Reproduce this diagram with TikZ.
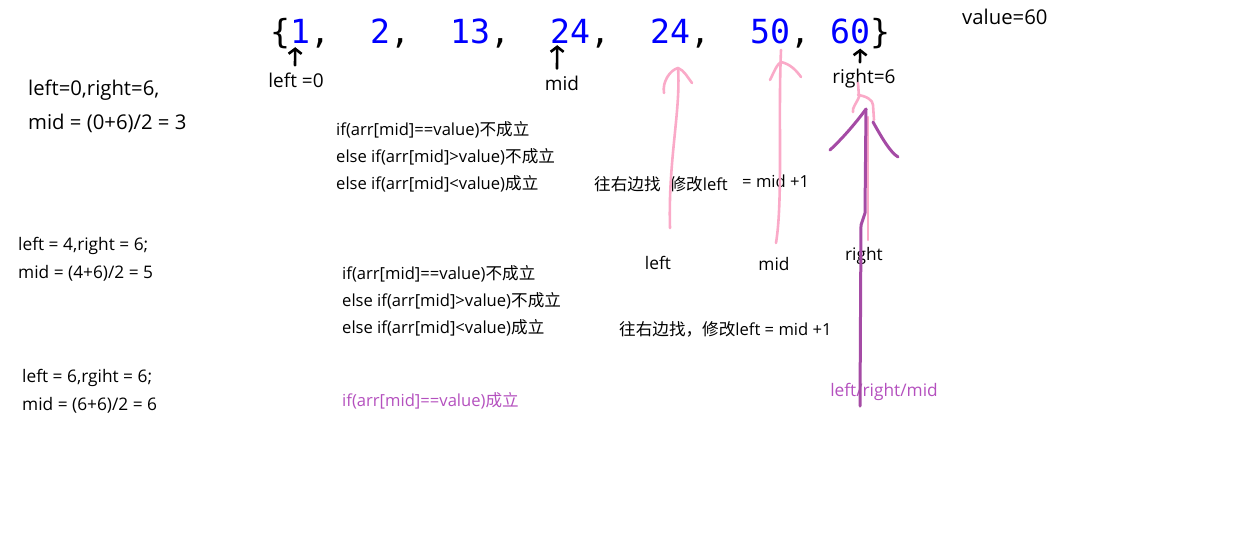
\documentclass[tikz,border=0pt]{standalone}
\usepackage{fontspec}
\setmainfont{Open Sans}
\setmonofont{DejaVu Sans Mono}
\newfontfamily\cjk{Noto Sans CJK SC}
\usetikzlibrary{positioning,arrows.meta}
\definecolor{colornum}   {RGB}{0  ,0  ,255}
\definecolor{colortext}  {RGB}{0  ,0  ,0  }
\definecolor{colorpink}  {RGB}{250,170,200}
\definecolor{colorpurple}{RGB}{165,75 ,165}
\definecolor{colorfound} {RGB}{180,80 ,190}

\begin{document}
\begin{tikzpicture}[
    x=1pt, y=-1pt,
    num/.style={text=colornum,font={\ttfamily\fontsize{33.2}{36}\selectfont},inner sep=0pt,anchor=base west},
    sep/.style={text=colortext,font={\ttfamily\fontsize{33.2}{36}\selectfont},inner sep=0pt,anchor=base west},
    txt/.style={text=colortext,font={\fontsize{17.3}{20}\selectfont},inner sep=1pt,anchor=west},
    code/.style={txt,font={\fontsize{16.6}{20}\selectfont}},
    bigtxt/.style={txt,font={\fontsize{20.3}{22}\selectfont}},
    lbl/.style={text=colortext,font={\fontsize{19}{20}\selectfont},inner sep=1pt},
    found/.style={code,text=colorfound},
    blkarrow/.style={-{Straight Barb[length=5pt,width=13pt]},line width=2.6pt,line cap=round},
    pinkline/.style={colorpink,line width=2.6pt,line cap=round,line join=round},
    purpleline/.style={colorpurple,line width=3pt,line cap=round,line join=round},
]
    \useasboundingbox (0,0) rectangle (1259,544);

    % Array
    \node[sep] (bl) at (270,43) {\{};
    \foreach \v/\i [count=\k] in {1/1,2/5,13/9,24/14,24/19,50/24,60/28}
        \node[num] (n\k) at ({270+20*\i},43) {\v};
    \foreach \i [count=\k] in {2,6,11,16,21,26}
        \node[sep] (c\k) at ({270+20*\i},43) {,};
    \node[sep] (br) at (870,43) {\}};

    \node[bigtxt] (value) at (961,17) {value=60};

    % Pointers
    \node[lbl] (leftlbl)  at (296,80) {left =0};
    \node[lbl] (midlbl)   at (562,83) {mid};
    \node[lbl] (rightlbl) at (864,79) {right=6};
    \draw[blkarrow] ([xshift=-1pt,yshift=6pt]leftlbl.north)  -- ([xshift=-5pt,yshift=-4pt]n1.south);
    \draw[blkarrow] ([xshift=-5pt,yshift=6pt]midlbl.north)   -- ([xshift=-13pt,yshift=-2pt]n4.south);
    \draw[blkarrow] ([xshift=-4pt,yshift=6pt]rightlbl.north) -- ([xshift=10pt,yshift=-5pt]n7.south);

    % Step 1
    \node[bigtxt] (s1a) at (27,90)  {left=0,right=6,};
    \node[bigtxt] (s1b) at (27,123) {mid = (0+6)/2 = 3};
    \node[code] (s1c1) at (335,130) {if(arr[mid]==value){\cjk 不成立}};
    \node[code] (s1c2) at (335,157) {else if(arr[mid]>value){\cjk 不成立}};
    \node[code] (s1c3) at (335,184) {else if(arr[mid]<value){\cjk 成立}};
    \node[code] (s1go) at (593,184) {{\cjk 往右边找\hspace{9pt}修改}left};
    \node[code] (s1eq) at (741,181) {= mid +1};

    % Step 2
    \node[txt] (s2a) at (17,246) {left = 4,right = 6;};
    \node[txt] (s2b) at (17,273) {mid = (4+6)/2 = 5};
    \node[code] (s2c1) at (341,274) {if(arr[mid]==value){\cjk 不成立}};
    \node[code] (s2c2) at (341,301) {else if(arr[mid]>value){\cjk 不成立}};
    \node[code] (s2c3) at (341,328) {else if(arr[mid]<value){\cjk 成立}};
    \node[code] (s2go) at (618,329) {{\cjk 往右边找，修改}left = mid +1};
    \node[txt,anchor=center] (s2left)  at (658,263) {left};
    \node[txt,anchor=center] (s2mid)   at (774,264) {mid};
    \node[txt,anchor=center] (s2right) at (864,256) {right};

    % Step 3
    \node[txt] (s3a) at (21,378) {left = 6,rgiht = 6;};
    \node[txt] (s3b) at (21,405) {mid = (6+6)/2 = 6};
    \node[found] (s3c) at (341,401) {if(arr[mid]==value){\cjk 成立}};
    \node[found,anchor=center,font={\fontsize{17.3}{20}\selectfont}] (s3all) at (884,392) {left/right/mid};

    % Pink pointers (hand drawn)
    \coordinate (pl0) at (670,228);
    \coordinate (pl1) at (678,68);
    \coordinate (pm0) at (776,243);
    \coordinate (pm1) at (781,50);
    \coordinate (pr0) at (868,240);
    \coordinate (pr1) at (868,117);
    \draw[pinkline] (pl0) .. controls (668,160) and (681,110) .. (pl1);
    \draw[pinkline] (664,93) .. controls (662,82) and (670,70) .. (pl1) .. controls (684,70) and (688,78) .. (692,83);
    \draw[pinkline] (pm0) .. controls (783,200) and (778,120) .. (pm1);
    \draw[pinkline] (770,80) .. controls (774,72) and (777,64) .. (781,62) .. controls (790,64) and (796,70) .. (801,77);
    \draw[pinkline] (pr0) -- (pr1);
    \draw[pinkline] (858,83) -- (859,97) .. controls (856,104) and (852,108) .. (853,112);
    \draw[pinkline] (858,95) .. controls (866,96) and (873,100) .. (873,105) -- (874,120);

    % Purple pointer
    \coordinate (pp0) at (860,406);
    \coordinate (pp1) at (866,109);
    \draw[purpleline] (pp0) -- (861,225) -- (865,213) -- (pp1);
    \draw[purpleline] (830,150) .. controls (845,136) and (858,120) .. (pp1);
    \draw[purpleline] (873,122) .. controls (882,138) and (890,152) .. (898,157);

\end{tikzpicture}
\end{document}
